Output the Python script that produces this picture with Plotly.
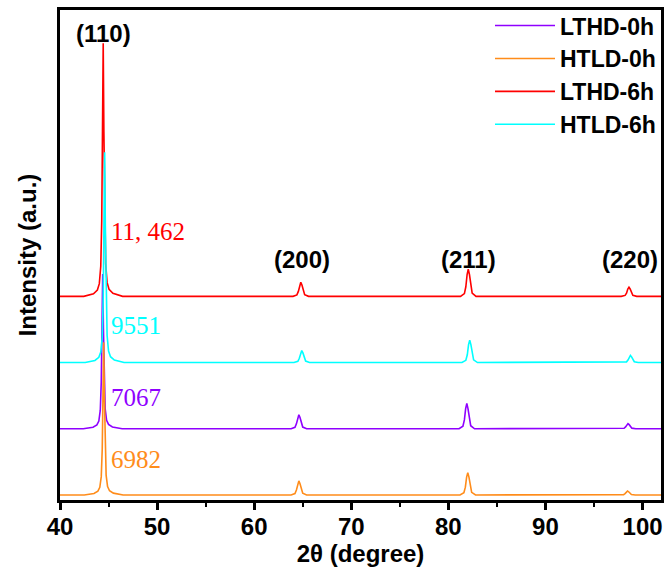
import numpy as np
import plotly.graph_objects as go

# ---- data ----
series_names = ["LTHD-0h", "HTLD-0h", "LTHD-6h", "HTLD-6h"]
series_colors = ["#8F00FF", "#FF8C1A", "#FF0000", "#00FFFF"]
series_offsets = [2960, 0, 8880, 5920]

lthd0_x = [40, 42.4, 43.4, 43.8, 44.0, 44.15, 44.25, 44.33, 44.4, 44.47, 44.55, 44.65, 44.8, 45.0, 45.4, 46.4,
           63.8, 64.2, 64.35, 64.48, 64.6, 64.72, 64.85, 65.0, 65.4,
           81.1, 81.5, 81.65, 81.78, 81.9, 82.02, 82.15, 82.3, 82.7,
           97.7, 98.1, 98.25, 98.38, 98.5, 98.62, 98.75, 98.9, 99.3, 102]
lthd0_y = [150, 150, 219, 323, 496, 980, 2225, 4646, 7067, 4646, 2363, 1049, 530, 344, 233, 150,
           150, 213, 370, 654, 780, 654, 402, 226, 150,
           150, 263, 546, 1054, 1280, 1054, 602, 286, 150,
           150, 173, 231, 334, 380, 334, 242, 178, 150, 150]

htld0_x = [40, 42.5, 43.5, 43.9, 44.1, 44.25, 44.35, 44.43, 44.5, 44.57, 44.65, 44.75, 44.9, 45.1, 45.5, 46.5,
           63.8, 64.2, 64.35, 64.48, 64.6, 64.72, 64.85, 65.0, 65.4,
           81.2, 81.6, 81.75, 81.88, 82.0, 82.12, 82.25, 82.4, 82.8,
           97.65, 98.05, 98.2, 98.33, 98.45, 98.57, 98.7, 98.85, 99.25, 102]
htld0_y = [150, 150, 218, 321, 492, 970, 2200, 4591, 6982, 4591, 2336, 1038, 526, 341, 232, 150,
           150, 213, 370, 654, 780, 654, 402, 226, 150,
           150, 250, 500, 950, 1150, 950, 550, 270, 150,
           150, 168, 213, 294, 330, 294, 222, 172, 150, 150]

lthd6_x = [40, 42.45, 43.45, 43.85, 44.05, 44.2, 44.3, 44.38, 44.45, 44.52, 44.6, 44.7, 44.85, 45.05, 45.45, 46.45,
           64.0, 64.4, 64.55, 64.68, 64.8, 64.92, 65.05, 65.2, 65.6,
           81.25, 81.65, 81.8, 81.93, 82.05, 82.17, 82.3, 82.45, 82.85,
           97.8, 98.2, 98.35, 98.48, 98.6, 98.72, 98.85, 99.0, 99.4, 102]
lthd6_y = [150, 150, 263, 433, 716, 1507, 3544, 7503, 11462, 7503, 3770, 1621, 772, 467, 286, 150,
           150, 213, 370, 654, 780, 654, 402, 226, 150,
           150, 272, 577, 1126, 1370, 1126, 638, 296, 150,
           150, 191, 294, 478, 560, 478, 314, 199, 150, 150]

htld6_x = [40, 42.6, 43.6, 44.0, 44.2, 44.35, 44.45, 44.53, 44.6, 44.67, 44.75, 44.85, 45.0, 45.2, 45.6, 46.6,
           64.1, 64.5, 64.65, 64.78, 64.9, 65.02, 65.15, 65.3, 65.7,
           81.4, 81.8, 81.95, 82.08, 82.2, 82.32, 82.45, 82.6, 83.0,
           97.95, 98.35, 98.5, 98.63, 98.75, 98.87, 99.0, 99.15, 99.55, 102]
htld6_y = [150, 150, 244, 385, 620, 1278, 2970, 6261, 9551, 6261, 3158, 1372, 667, 413, 263, 150,
           150, 204, 339, 582, 690, 582, 366, 215, 150,
           150, 250, 500, 950, 1150, 950, 550, 270, 150,
           150, 182, 262, 406, 470, 406, 278, 188, 150, 150]

series_x = [lthd0_x, htld0_x, lthd6_x, htld6_x]
series_y = [lthd0_y, htld0_y, lthd6_y, htld6_y]

hkl_labels = ["(110)", "(200)", "(211)", "(220)"]
peak_labels = ["7067", "6982", "11, 462", "9551"]

x_ticks = [40, 50, 60, 70, 80, 90, 100]

# ---- figure ----
fig = go.Figure()
for name, color, off, xs, ys in zip(series_names, series_colors, series_offsets, series_x, series_y):
    fig.add_trace(go.Scatter(
        x=xs, y=np.array(ys) + off, mode="lines", name=name,
        line=dict(color=color, width=1.6),
    ))

bold = dict(family="Arial, Liberation Sans, sans-serif", size=24, color="black", weight="bold")

hkl_pos = [(44.5, 20800), (64.9, 10655), (82.07, 10655), (98.7, 10655)]
for txt, (x, y) in zip(hkl_labels, hkl_pos):
    fig.add_annotation(x=x, y=y, text=txt, showarrow=False, font=bold,
                       xanchor="center", yanchor="middle")

peak_pos = [(45.05, 4486), (45.05, 1715), (45.05, 11951), (45.05, 7749)]
for txt, color, (x, y) in zip(peak_labels, series_colors, peak_pos):
    fig.add_annotation(x=x, y=y, text=txt, showarrow=False,
                       font=dict(family="Times New Roman, Liberation Serif, serif", size=25, color=color),
                       xanchor="left", yanchor="middle")

fig.update_layout(
    width=665, height=571,
    margin=dict(l=60, r=1, t=10, b=71),
    plot_bgcolor="white", paper_bgcolor="white",
    showlegend=True,
    legend=dict(x=1, y=1.012, xanchor="right", yanchor="top", bgcolor="rgba(0,0,0,0)",
                font=dict(bold, size=23), tracegroupgap=0, itemwidth=60),
    xaxis=dict(
        range=[40, 101.9], tickvals=x_ticks, ticks="outside", ticklen=7, tickwidth=2.5,
        tickcolor="black", showline=True, linecolor="black", linewidth=2.5, mirror=True,
        showgrid=False, zeroline=False, tickfont=bold, ticklabelstandoff=-4,
        minor=dict(ticks="outside", ticklen=4, tickwidth=2, dtick=5, tick0=40, tickcolor="black"),
        title=dict(text="2θ (degree)", font=bold, standoff=4),
    ),
    yaxis=dict(
        range=[-74, 21830], showticklabels=False, ticks="", showline=True, linecolor="black",
        linewidth=2.5, mirror=True, showgrid=False, zeroline=False,
        title=dict(text="Intensity (a.u.)", font=bold, standoff=14),
    ),
)

fig.write_html("out.html", config={"displayModeBar": False},
               post_script="document.body.style.margin='0';document.body.style.overflow='hidden';")
